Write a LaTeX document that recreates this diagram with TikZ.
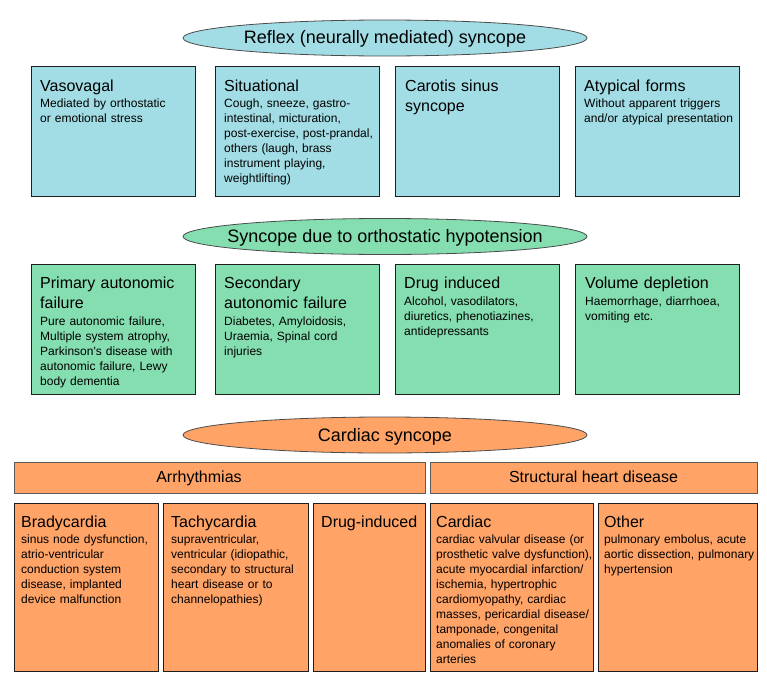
\documentclass[tikz,border=0pt]{standalone}
\usepackage{fontspec}
\setmainfont{Liberation Sans}
\usetikzlibrary{shapes.geometric,calc}
\definecolor{cblue}{RGB}{162,221,229}
\definecolor{cgreen}{RGB}{132,222,176}
\definecolor{corange}{RGB}{255,163,102}
\definecolor{edge}{RGB}{30,30,30}
\definecolor{baredge}{RGB}{90,90,90}
\tikzset{
  catbox/.style={draw=edge, line width=0.9pt, rectangle, inner sep=0pt, anchor=north west},
  barbox/.style={draw=baredge, line width=0.9pt, rectangle, inner sep=0pt, anchor=north west},
  oval/.style={draw=edge!80, line width=0.8pt, ellipse, inner sep=0pt, minimum width=404pt, minimum height=36pt,
    font=\fontsize{18}{20}\selectfont, text height=12pt, text depth=0pt},
  ttl/.style={inner sep=0pt, anchor=base west, text width=170pt, align=left, font=\fontsize{16}{20}\selectfont},
  bdy/.style={inner sep=0pt, anchor=base west, text width=170pt, align=left, font=\fontsize{12}{15}\selectfont},
  bartxt/.style={inner sep=0pt, anchor=base, font=\fontsize{16}{20}\selectfont},
}
\newcommand{\mkbox}[7]{% name, x1, y1, x2, y2, fill, style
  \path let \n1={#4-#2}, \n2={#5-#3} in node[#7, fill=#6, minimum width=\n1 pt, minimum height=\n2 pt] (#1) at (#2,#3) {};}
\begin{document}
\begin{tikzpicture}[x=1pt,y=-1pt]
\useasboundingbox (0,0) rectangle (767,685);
% ---------- Reflex ----------
\node[oval, fill=cblue] (reflex) at (385,38) {\makebox[0pt]{Reflex (neurally mediated) syncope}};
\mkbox{vaso}{31}{66}{195}{196}{cblue}{catbox}
\mkbox{situ}{215}{66}{379}{196}{cblue}{catbox}
\mkbox{caro}{395}{66}{559}{196}{cblue}{catbox}
\mkbox{atyp}{575}{66}{739}{196}{cblue}{catbox}
\node[ttl] (vasoT) at (40,91) {Vasovagal};
\node[bdy] (vasoB) at (40,107.5) {Mediated by orthostatic\\or emotional stress};
\node[ttl] (situT) at (224,91) {Situational};
\node[bdy] (situB) at (224,107.5) {Cough, sneeze, gastro-\\intestinal, micturation,\\post-exercise, post-prandal,\\others (laugh, brass\\instrument playing,\\weightlifting)};
\node[ttl] (caroT) at (405,91) {Carotis sinus\\syncope};
\node[ttl] (atypT) at (584,91) {Atypical forms};
\node[bdy] (atypB) at (584,107.5) {Without apparent triggers\\and/or atypical presentation};
% ---------- Orthostatic ----------
\node[oval, fill=cgreen] (ortho) at (385,236.5) {\makebox[0pt]{Syncope due to orthostatic hypotension}};
\mkbox{prim}{31}{264}{195}{394}{cgreen}{catbox}
\mkbox{seco}{215}{264}{379}{394}{cgreen}{catbox}
\mkbox{drug}{395}{264}{559}{394}{cgreen}{catbox}
\mkbox{volu}{575}{264}{739}{394}{cgreen}{catbox}
\node[ttl] (primT) at (40,288) {Primary autonomic\\failure};
\node[bdy] (primB) at (40,325) {Pure autonomic failure,\\Multiple system atrophy,\\Parkinson\textquotesingle s disease with\\autonomic failure, Lewy\\body dementia};
\node[ttl] (secoT) at (224,288) {Secondary\\autonomic failure};
\node[bdy] (secoB) at (224,325) {Diabetes, Amyloidosis,\\Uraemia, Spinal cord\\injuries};
\node[ttl] (drugT) at (404,288) {Drug induced};
\node[bdy] (drugB) at (404,305) {Alcohol, vasodilators,\\diuretics, phenotiazines,\\antidepressants};
\node[ttl] (voluT) at (585,288) {Volume depletion};
\node[bdy] (voluB) at (585,305) {Haemorrhage, diarrhoea,\\vomiting etc.};
% ---------- Cardiac ----------
\node[oval, fill=corange] (cardsyn) at (385,435) {\makebox[0pt]{Cardiac syncope}};
\mkbox{arr}{14}{462}{425}{493}{corange}{barbox}
\mkbox{struct}{430}{462}{757}{493}{corange}{barbox}
\node[bartxt] (arrT) at (199,482.5) {Arrhythmias};
\node[bartxt] (structT) at (593.5,482.5) {Structural heart disease};
\mkbox{brady}{14}{503}{158}{671}{corange}{catbox}
\mkbox{tachy}{163}{503}{308}{671}{corange}{catbox}
\mkbox{drugc}{313}{503}{425}{671}{corange}{catbox}
\mkbox{cardi}{430}{503}{593}{671}{corange}{catbox}
\mkbox{other}{598}{503}{757}{671}{corange}{catbox}
\node[ttl] (bradyT) at (21,527) {Bradycardia};
\node[bdy] (bradyB) at (21,543) {sinus node dysfunction,\\atrio-ventricular\\conduction system\\disease, implanted\\device malfunction};
\node[ttl] (tachyT) at (171,527) {Tachycardia};
\node[bdy] (tachyB) at (171,543) {supraventricular,\\ventricular (idiopathic,\\secondary to structural\\heart disease or to\\channelopathies)};
\node[ttl] (drugcT) at (321,527) {Drug-induced};
\node[ttl] (cardiT) at (436,527) {Cardiac};
\node[bdy] (cardiB) at (436,543) {cardiac valvular disease (or\\prosthetic valve dysfunction),\\acute myocardial infarction/\\ischemia, hypertrophic\\cardiomyopathy, cardiac\\masses, pericardial disease/\\tamponade, congenital\\anomalies of coronary\\arteries};
\node[ttl] (otherT) at (604,527) {Other};
\node[bdy] (otherB) at (604,543) {pulmonary embolus, acute\\aortic dissection, pulmonary\\hypertension};
\end{tikzpicture}
\end{document}
